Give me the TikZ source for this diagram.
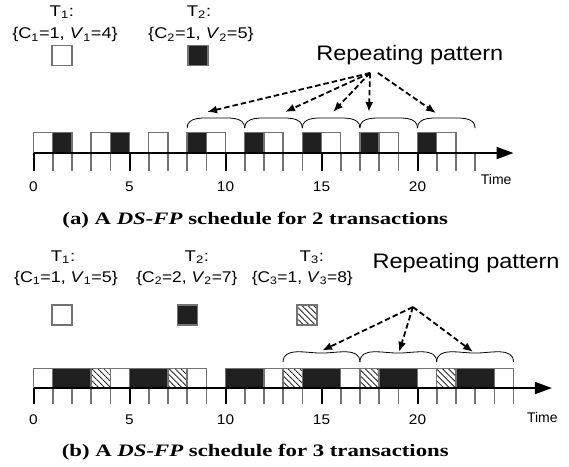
\documentclass[tikz,border=0pt]{standalone}
\usepackage{fontspec}
\setmainfont{Liberation Serif}
\setsansfont{Liberation Sans}
\usetikzlibrary{arrows.meta,patterns.meta}

\definecolor{edgegray}{gray}{0.45}

% wide-set text, as in the schedule figures
\newcommand{\wide}[2]{\scalebox{#1}[1]{#2}}

\begin{document}
\begin{tikzpicture}[
    x=19.2pt,y=19.2pt,
    slot/.style={draw=edgegray,line width=1.3pt},
    wslot/.style={slot,fill=white},
    bslot/.style={slot,fill=black!88},
    hslot/.style={slot,pattern={Lines[angle=-45,distance=4.2pt,line width=0.7pt]}},
    key/.style={minimum size=20pt,inner sep=0pt},
    tick/.style={edgegray,line width=1.6pt},
    mtick/.style={black,line width=2pt},
    timeaxis/.style={line width=2pt,-{Triangle[length=17pt,width=12pt]}},
    patarc/.style={line width=0.8pt},
    hint/.style={line width=1.8pt,dash pattern=on 5.5pt off 3pt,-{Latex[length=10pt,width=8pt]}},
    tlabel/.style={font={\fontsize{15.5}{15.5}\selectfont\sffamily}},
    nums/.style={font={\fontsize{14}{14}\selectfont\sffamily}},
    big/.style={font={\fontsize{21}{21}\selectfont\sffamily}},
    capt/.style={font={\fontsize{17.5}{17.5}\selectfont\bfseries}}]

    \useasboundingbox (-1.745,7.97) rectangle (27.89,-16.35);

    % ---- two transactions ----
    \node[tlabel] (ta) at (1.48,7.34) {\wide{1.2}{T\textsubscript{1}:}};
    \node[tlabel] (pa) at (1.64,6.15) {\wide{1.17}{\{C\textsubscript{1}=1, \textit{V}\textsubscript{1}=4\}}};
    \node[tlabel] (tb) at (8.62,7.34) {\wide{1.2}{T\textsubscript{2}:}};
    \node[tlabel] (pb) at (8.72,6.15) {\wide{1.17}{\{C\textsubscript{2}=1, \textit{V}\textsubscript{2}=5\}}};
    \node[wslot,key] (ka) at (1.48,5.08) {};
    \node[bslot,key] (kb) at (8.57,5.08) {};

    \draw[wslot] (0,0) rectangle (1,1.08);
    \draw[bslot] (1,0) rectangle (2,1.08);
    \draw[wslot] (3,0) rectangle (4,1.08);
    \draw[bslot] (4,0) rectangle (5,1.08);
    \draw[wslot] (6,0) rectangle (7,1.08);
    \draw[bslot] (8,0) rectangle (9,1.08);
    \draw[wslot] (9,0) rectangle (10,1.08);
    \draw[bslot] (11,0) rectangle (12,1.08);
    \draw[wslot] (12,0) rectangle (13,1.08);
    \draw[bslot] (14,0) rectangle (15,1.08);
    \draw[wslot] (15,0) rectangle (16,1.08);
    \draw[bslot] (17,0) rectangle (18,1.08);
    \draw[wslot] (18,0) rectangle (19,1.08);
    \draw[bslot] (20,0) rectangle (21,1.08);
    \draw[wslot] (21,0) rectangle (22,1.08);

    \foreach \t in {0,...,23}
        \draw[tick] (\t,0) -- (\t,-0.94);
    \foreach \t in {0,5,...,20}{
        \draw[mtick] (\t,0) -- (\t,-0.94);
        \node[nums] at (\t,-1.77) {\wide{1.1}{\t}};
    }
    \draw[timeaxis] (0,0) -- (25,0);
    \node[nums] (timea) at (24.1,-1.4) {Time};

    \foreach \a in {8,11,...,20}
        \draw[patarc] (\a,1.3) to[out=90,in=180] (\a+1.5,1.82) to[out=0,in=90] (\a+3,1.3);

    \node[big] (repa) at (19.6,5.1) {\wide{1.12}{Repeating pattern}};
    \coordinate (srca) at (17.53,4.17);
    \coordinate (srcb) at (17.94,4.17);
    \coordinate (hita) at (9.04,2.14);
    \coordinate (hitb) at (13.1,2.14);
    \coordinate (hitc) at (15.6,2.14);
    \coordinate (hitd) at (17.47,2.14);
    \coordinate (hite) at (20.96,2.08);
    \draw[hint] (srca) -- (hita);
    \draw[hint] (srca) -- (hitb);
    \draw[hint] (srca) -- (hitc);
    \draw[hint] (srca) -- (hitd);
    \draw[hint] (srcb) -- (hite);

    \node[capt] (capa) at (11.55,-3.49) {\wide{1.3}{(a) A \textit{DS-FP} schedule for 2 transactions}};

    % ---- three transactions ----
    \begin{scope}[shift={(0,-12.24)}]
    \node[tlabel] (tc) at (1.54,6.82) {\wide{1.2}{T\textsubscript{1}:}};
    \node[tlabel] (pc) at (1.69,5.73) {\wide{1.15}{\{C\textsubscript{1}=1, \textit{V}\textsubscript{1}=5\}}};
    \node[tlabel] (td) at (8.51,6.82) {\wide{1.2}{T\textsubscript{2}:}};
    \node[tlabel] (pd) at (7.99,5.73) {\wide{1.12}{\{C\textsubscript{2}=2, \textit{V}\textsubscript{2}=7\}}};
    \node[tlabel] (te) at (14.5,6.82) {\wide{1.2}{T\textsubscript{3}:}};
    \node[tlabel] (pe) at (14.0,5.73) {\wide{1.12}{\{C\textsubscript{3}=1, \textit{V}\textsubscript{3}=8\}}};
    \node[wslot,key] (kc) at (1.48,3.8) {};
    \node[bslot,key] (kd) at (8.02,3.8) {};
    \node[hslot,key] (ke) at (14.24,3.8) {};

    \draw[wslot] (0,0) rectangle (1,1.0);
    \draw[bslot] (1,0) rectangle (3,1.0);
    \draw[hslot] (3,0) rectangle (4,1.0);
    \draw[wslot] (4,0) rectangle (5,1.0);
    \draw[bslot] (5,0) rectangle (7,1.0);
    \draw[hslot] (7,0) rectangle (8,1.0);
    \draw[wslot] (8,0) rectangle (9,1.0);
    \draw[bslot] (10,0) rectangle (12,1.0);
    \draw[wslot] (12,0) rectangle (13,1.0);
    \draw[hslot] (13,0) rectangle (14,1.0);
    \draw[bslot] (14,0) rectangle (16,1.0);
    \draw[wslot] (16,0) rectangle (17,1.0);
    \draw[hslot] (17,0) rectangle (18,1.0);
    \draw[bslot] (18,0) rectangle (20,1.0);
    \draw[wslot] (20,0) rectangle (21,1.0);
    \draw[hslot] (21,0) rectangle (22,1.0);
    \draw[bslot] (22,0) rectangle (24,1.0);
    \draw[wslot] (24,0) rectangle (25,1.0);

    \foreach \t in {0,...,25}
        \draw[tick] (\t,0) -- (\t,-0.85);
    \foreach \t in {0,5,...,20}{
        \draw[mtick] (\t,0) -- (\t,-0.85);
        \node[nums] at (\t,-1.67) {\wide{1.1}{\t}};
    }
    \draw[timeaxis] (0,0) -- (27,0);
    \node[nums] (timeb) at (26.5,-1.55) {Time};

    \foreach \a in {13,17,21}
        \draw[patarc] (\a,1.35) to[out=90,in=180] (\a+2,1.82) to[out=0,in=90] (\a+4,1.35);

    \node[big] (repb) at (22.53,6.51) {\wide{1.12}{Repeating pattern}};
    \coordinate (srcc) at (19.76,4.22);
    \coordinate (hitf) at (15.03,1.95);
    \coordinate (hitg) at (19.04,1.88);
    \coordinate (hith) at (22.89,1.88);
    \draw[hint] (srcc) -- (hitf);
    \draw[hint] (srcc) -- (hitg);
    \draw[hint] (srcc) -- (hith);

    \node[capt] (capb) at (11.55,-3.33) {\wide{1.3}{(b) A \textit{DS-FP} schedule for 3 transactions}};
    \end{scope}

\end{tikzpicture}
\end{document}
